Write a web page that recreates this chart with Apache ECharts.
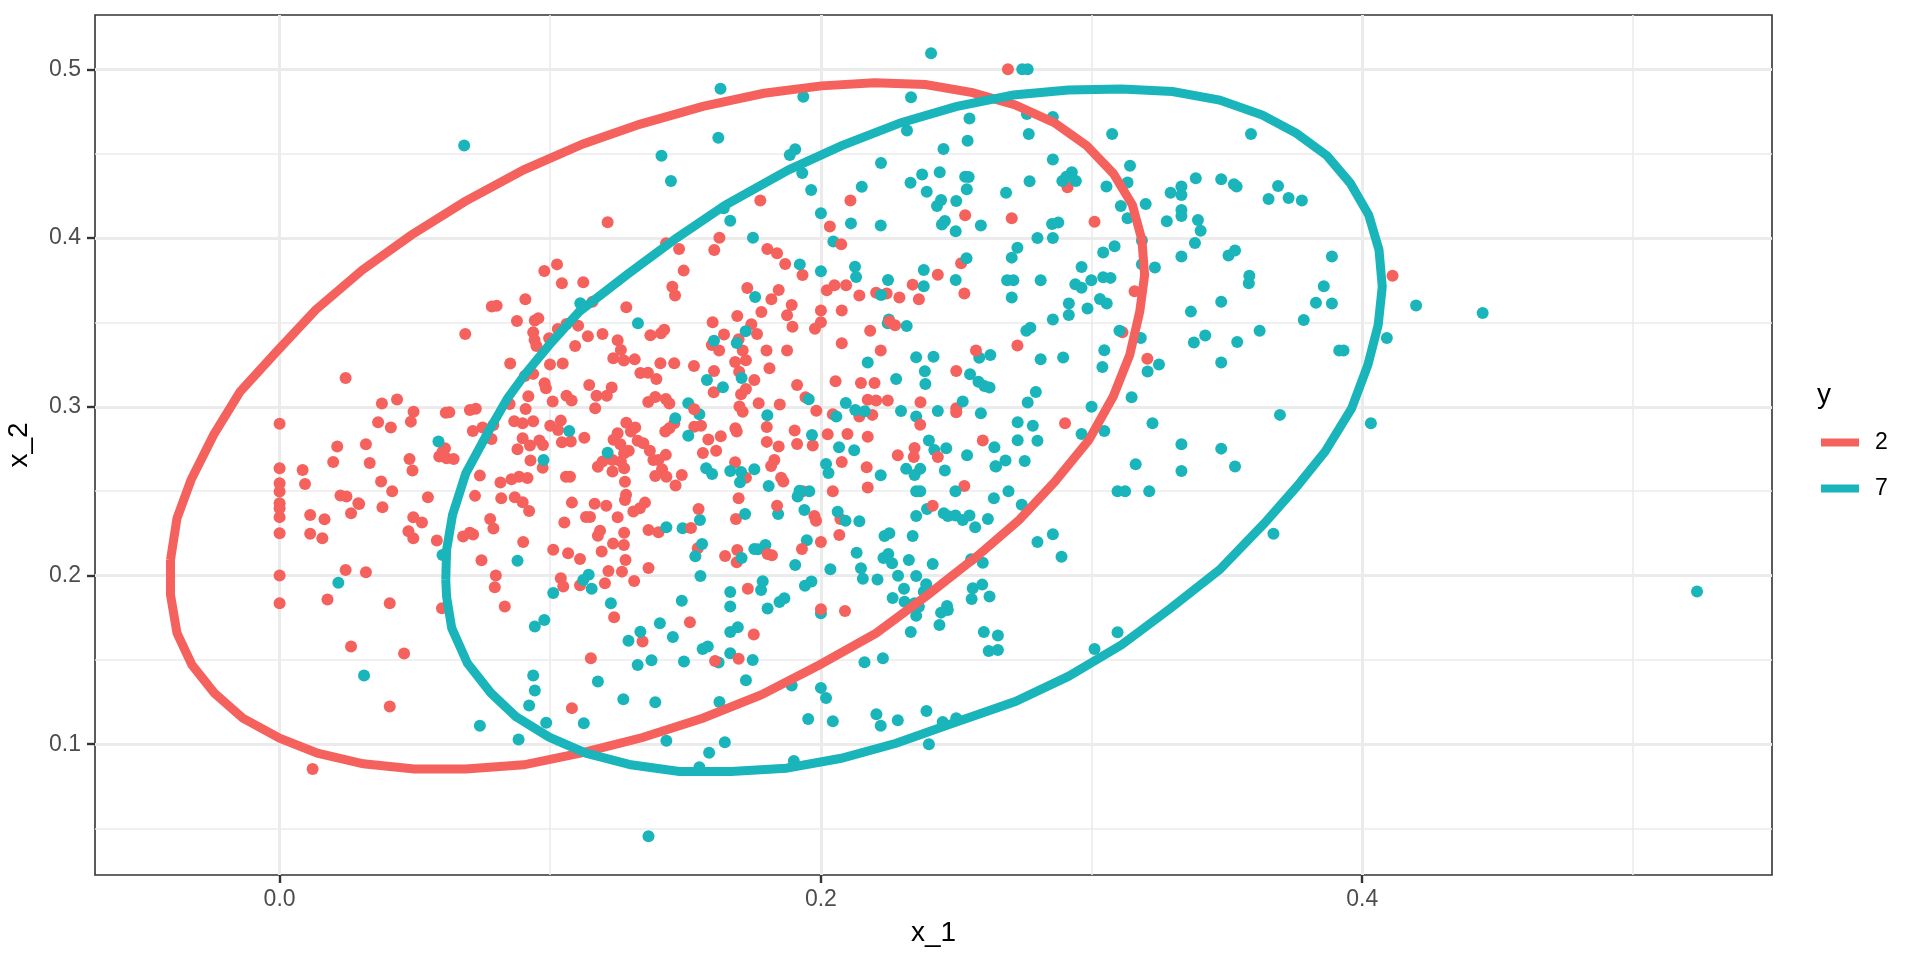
<!DOCTYPE html>
<html><head><meta charset="utf-8">
<script src="https://cdn.jsdelivr.net/npm/echarts@6/dist/echarts.min.js"></script>
<style>html,body{margin:0;padding:0;background:#fff}#c{width:1920px;height:960px}</style>
</head><body><div id="c"></div>
<script>
const xMajor=[0,0.2,0.4];
const xMinor=[0.1,0.3,0.5];
const yMajor=[0.1,0.2,0.3,0.4,0.5];
const yMinor=[0.05,0.15,0.25,0.35,0.45];
const groups=['2','7'];
const points2=[[.1025,.3844],[.0978,.3805],[.1043,.3732],[.1122,.3738],[.1451,.3712],[.1461,.3659],[.0908,.3637],[.0784,.3594],[.0802,.3599],[.1156,.3623],[.1281,.3590],[.0877,.3509],[.0943,.3511],[.0956,.3524],[.1028,.3461],[.1060,.3491],[.1103,.3481],[.0686,.3432],[.0937,.3441],[.0942,.3396],[.0949,.3360],[.0996,.3406],[.1092,.3360],[.1139,.3418],[.1193,.3432],[.1249,.3394],[.1261,.3337],[.1233,.3287],[.1272,.3274],[.1312,.3281],[.1370,.3424],[.1409,.3436],[.1421,.3457],[.0852,.3256],[.0999,.3250],[.1046,.3256],[.1407,.3258],[.1458,.3258],[.1333,.3200],[.1361,.3202],[.1392,.3165],[.0906,.3183],[.0937,.3195],[.0979,.3139],[.0984,.3110],[.1144,.3129],[.1227,.3114],[.1171,.3066],[.1209,.3066],[.0919,.3062],[.1060,.3066],[.1079,.3037],[.1009,.3031],[.1362,.3029],[.1388,.3058],[.1427,.3046],[.1440,.3019],[.1166,.2991],[.0378,.3019],[.0434,.3043],[.0495,.2971],[.0485,.2912],[.0364,.2908],[.0411,.2877],[.0614,.2965],[.0627,.2967],[.0703,.2981],[.0725,.2989],[.0850,.3017],[.0909,.2987],[.0867,.2914],[.0898,.2902],[.0937,.2914],[.0790,.2892],[.0750,.2877],[.0714,.2857],[.0783,.2809],[.1000,.2888],[.1039,.2918],[.1029,.2863],[.1126,.2817],[.1043,.2790],[.1076,.2794],[.0898,.2813],[.0960,.2800],[.0973,.2774],[.0925,.2770],[.0879,.2748],[.0927,.2681],[.0972,.2638],[.0319,.2778],[.0333,.2667],[.0480,.2691],[.0491,.2622],[.0611,.2754],[.0590,.2705],[.0617,.2695],[.0643,.2691],[.0602,.2734],[.0375,.2557],[.0416,.2499],[.0548,.2464],[.0380,.2405],[.0294,.2424],[.0740,.2592],[.0816,.2551],[.0857,.2570],[.0885,.2586],[.0916,.2578],[.0722,.2472],[.0819,.2458],[.0869,.2464],[.0898,.2434],[.0922,.2383],[.1058,.2586],[.1073,.2586],[.1080,.2432],[.1164,.2426],[.1207,.2414],[.1276,.2555],[.1280,.2478],[.1276,.2448],[.1350,.2432],[.1331,.2399],[.1307,.2379],[.1463,.2533],[.0494,.2345],[.0526,.2314],[.0476,.2262],[.0494,.2221],[.0581,.2207],[.0778,.2335],[.0790,.2278],[.0678,.2231],[.0703,.2254],[.0715,.2243],[.0900,.2199],[.1052,.2314],[.1132,.2347],[.1147,.2347],[.1249,.2345],[.1363,.2270],[.1400,.2256],[.1184,.2266],[.1176,.2235],[.1273,.2254],[.1232,.2189],[.1272,.2181],[.1190,.2142],[.1278,.2092],[.1011,.2152],[.1066,.2132],[.1110,.2098],[.0746,.2090],[.1363,.2045],[.1215,.2027],[.1265,.2023],[.0319,.2019],[.0799,.2000],[.1039,.1984],[.1281,.2906],[.1314,.2877],[.1298,.2853],[.1249,.2843],[.1234,.2804],[.1259,.2778],[.1323,.2798],[.1344,.2784],[.1290,.2740],[.1368,.2740],[.1381,.2685],[.1427,.2715],[.1400,.2685],[.1273,.2724],[.1230,.2685],[.1193,.2675],[.1176,.2645],[.1230,.2616],[.1273,.2636],[.1261,.2675],[.1413,.2630],[.1388,.2590],[.1429,.2586],[.1458,.2902],[.1440,.2873],[.1425,.2853],
[.0795,.1931],[.1048,.1935],[.1110,.1942],[.1202,.1954],[.1310,.1968],[.0600,.1806],[.0407,.1836],[.0832,.1816],[.1236,.1753],[.1341,.1609],[.0460,.1538],[.1150,.1510],[.0407,.1224],[.1080,.1214],
[0,.2899],[.0244,.3171],[.0213,.2764],[0,.2636],[.0085,.2626],[.0198,.2673],[0,.2547],[0,.2498],[.0094,.2543],[0,.2429],[0,.2399],[0,.2346],[0,.2251],[.0113,.2359],[.0166,.2334],[.0113,.2247],[.0158,.2221],[.0225,.2474],[.0247,.2468],[.0291,.2429],[.0264,.2369],[0,.2],[0,.1836],[.0244,.2032],[.0177,.1858],[.0264,.1579],[.0122,.0853],[.1212,.4093],
[.1428,.3969],[.1476,.3935],[.1493,.3807],[.2691,.5],
[.1776,.4222],[.2109,.4222],[.2533,.4135],[.2033,.4068],[.1625,.4002],[.1606,.3929],[.1802,.3935],[.1838,.3910],[.1868,.3846],[.1932,.3781],[.2518,.3850],[.2432,.3783],[.2339,.3724],[.1728,.3704],[.1844,.3692],[.1817,.3637],[.1892,.3603],[.1780,.3562],[.1691,.3538],[.1875,.3542],[.1895,.3475],[.1600,.3501],[.1743,.3489],[.1764,.3432],[.1642,.3428],[.1696,.3400],[.1597,.3366],[.1624,.3333],[.1711,.3333],[.1799,.3333],[.1875,.3333],[.1723,.3276],[.1683,.3266],[.1810,.3228],[.1531,.3242],[.1605,.3212],[.1698,.3208],[.1754,.3159],[.1723,.3106],[.1604,.3086],[.1705,.3074],[.1770,.3021],[.1848,.3013],[.1912,.3129],[.1943,.3056],[.1983,.2977],[.1699,.3001],[.1711,.2971],[.2022,.3690],[.2050,.3720],[.2093,.3720],[.2142,.3659],[.2204,.3676],[.2243,.3672],[.2290,.3647],[.2362,.3637],[.2530,.3672],[.2000,.3570],[.2077,.3570],[.2000,.3501],[.1978,.3463],[.2182,.3451],[.2077,.3376],[.2221,.3333],[.2500,.3212],[.2054,.3151],[.2148,.3141],[.2198,.3141],[.2173,.3041],[.2204,.3037],[.2247,.3037],[.2368,.3027],[.2500,.2991],[.2500,.2967],[.2044,.2956],[.2142,.2942],[.2190,.2952],[.1684,.2873],[.1689,.2853],[.1532,.2882],[.1557,.2888],[.1630,.2825],[.1584,.2806],[.1903,.2859],[.2025,.2837],[.2098,.2839],[.2173,.2823],[.1800,.2792],[.1844,.2764],[.1912,.2780],[.1970,.2770],[.1613,.2740],[.1564,.2726],[.2346,.2756],[.2343,.2703],[.2284,.2713],[.2598,.2800],[.2077,.2673],[.1683,.2671],[.1828,.2685],[.1816,.2649],[.2169,.2642],[.1486,.2596],[.1723,.2580],[.1853,.2580],[.1861,.2557],[.2173,.2521],[.2530,.2531],[.2044,.2499],[.1933,.2499],[.1696,.2458],
[.1686,.2335],[.2072,.2335],[.1545,.2161],[.1646,.2116],[.1691,.2151],[.1689,.2078],[.2000,.2199],[.2068,.2240],[.1516,.1723],[.1752,.1650],[.2089,.1790],
[.2705,.4117],[.3011,.4097],[.2911,.4301],[.2726,.3363],[.3114,.3442],[.3159,.3685],[.3206,.3284],[.2902,.2903],[.4112,.3777]];
const points7=[[.1111,.3613],[.1324,.3495],[.0587,.2794],[.1070,.2857],[.1212,.2728],[.0975,.2685],[.1462,.2932],[.1429,.2286],[.0879,.2087],[.0602,.2122],[.1142,.2004],[.1122,.1974],
[.1153,.1921],[.1011,.1897],[.1224,.1836],[.0978,.1737],[.0943,.1698],[.1405,.1717],[.1333,.1666],[.1289,.1613],[.1453,.1636],[.1374,.1498],[.1323,.1470],[.0312,.1407],[.0937,.1407],[.0943,.1318],[.1176,.1372],[.0922,.1229],[.1270,.1267],[.1388,.1249],[.0740,.1109],[.0985,.1127],[.1124,.1125],[.0883,.1028],[.1429,.1020],[.0217,.1957],[.0682,.4548],
[.1411,.4488],[.1446,.4338],[.1629,.4885],[.1935,.4838],[.1621,.4595],[.2333,.4834],[.2407,.5095],[.1885,.4492],[.1905,.4526],[.1931,.4386],[.2222,.4445],[.2318,.4637],[.2549,.4708],[.2761,.4735],[.2857,.4718],[.2542,.4577],[.2453,.4528],[.2768,.4617],[.2857,.4465],[.3076,.4617],[.3142,.4429],[.3589,.4617],[.2439,.4390],[.2374,.4376],[.2533,.4364],[.2546,.4362],[.2744,.5],[.2764,.5],
[.1964,.4285],[.2151,.4304],[.2331,.4328],[.2391,.4275],[.2444,.4225],[.2429,.4190],[.2500,.4220],[.2539,.4289],[.2000,.4147],[.2111,.4087],[.2221,.4075],[.1665,.4103],[.1641,.4176],[.1749,.4002],[.2458,.4101],[.2447,.4081],[.2498,.4040],[.2591,.4075],[.2046,.3979],[.2538,.3880],[.1922,.3844],[.2000,.3803],[.2126,.3830],[.2130,.3769],[.2380,.3811],[.2498,.3752],[.2248,.3752],[.2380,.3714],[.1757,.3651],[.2222,.3663],[.1722,.3447],[.1605,.3392],[.1689,.3378],[.2251,.3518],[.2247,.3495],[.2317,.3479],[.2173,.3262],[.2352,.3293],[.2416,.3297],[.2626,.3307],[.2585,.3291],[.2384,.3210],[.2278,.3165],[.2386,.3135],[.2551,.3193],[.2582,.3149],[.2604,.3123],[.2623,.3114],[.1579,.3159],[.1707,.3171],[.1638,.3116],[.1955,.3044],[.2092,.3023],[.2524,.3031],[.2296,.2975],[.2432,.2975],[.2591,.2962],[.2127,.2981],[.2162,.2973],[.2352,.2942],[.2057,.2942],[.1802,.2950],[.1510,.3021],[.1551,.2956],[.1510,.2829],[.1967,.2833],[.2399,.2800],[.2419,.2744],[.2463,.2754],[.2067,.2760],[.2123,.2742],[.2641,.2760],[.2540,.2713],[.2645,.2647],[.2019,.2661],[.2028,.2608],[.2221,.2594],[.2315,.2632],[.2367,.2632],[.2346,.2596],[.2458,.2622],[.1576,.2636],[.1598,.2602],[.1665,.2620],[.1705,.2614],[.1754,.2630],[.1701,.2553],[.1807,.2531],[.1921,.2503],[.1957,.2499],[.1914,.2468],[.2352,.2499],[.2367,.2499],[.2497,.2499],[.2639,.2458],
[.1553,.2329],[.1489,.2280],[.1720,.2365],[.1842,.2365],[.1939,.2388],[.2062,.2378],[.2091,.2325],[.2142,.2321],[.2352,.2353],[.2392,.2394],[.2454,.2369],[.2469,.2353],[.2497,.2355],[.2524,.2329],[.2549,.2355],[.2570,.2286],[.2617,.2335],[.2339,.2234],[.2235,.2234],[.2253,.2250],[.1561,.2187],[.1536,.2114],[.1707,.2104],[.1754,.2157],[.1767,.2155],[.1795,.2181],[.1948,.2209],[.2132,.2135],[.2231,.2104],[.2249,.2128],[.2263,.2072],[.2325,.2092],[.2413,.2068],[.2555,.2096],[.2598,.2076],[.1905,.2062],[.2035,.2037],[.2148,.2043],[.2155,.1981],[.2209,.1977],[.2285,.1999],[.2352,.1997],[.1555,.1997],[.1785,.1966],[.1779,.1914],[.1665,.1902],[.1965,.1964],[.1941,.1940],[.2389,.1948],[.2380,.1904],[.2307,.1922],[.2561,.1924],[.2596,.1946],[.2557,.1861],[.2623,.1875],[.2265,.1867],[.2309,.1845],[.2346,.1835],[.2362,.1815],[.1486,.1851],[.1665,.1817],[.1803,.1804],[.1847,.1843],[.1865,.1865],[.2000,.1776],[.2352,.1762],[.2444,.1780],[.2466,.1819],[.2469,.1796],[.2438,.1707],[.2332,.1665],[.1665,.1665],[.1693,.1693],[.2602,.1665],[.2654,.1644],[.2620,.1553],[.2654,.1559],[.1563,.1565],[.1582,.1579],[.1665,.1539],[.1748,.1499],[.1622,.1484],[.1494,.1490],[.2161,.1486],[.2229,.1509],[.1723,.1379],[.1892,.1348],[.2000,.1334],[.2019,.1274],[.1625,.1251],[.2205,.1178],[.2221,.1110],[.2284,.1142],[.2390,.1197],[.2450,.1132],[.2500,.1154],[.1953,.1150],[.2044,.1136],[.1645,.1012],[.1587,.0950],[.1551,.0864],[.1900,.0901],[.2399,.1000],[.1363,.0454],
[.2693,.2500],[.3096,.2500],[.3124,.2500],[.3213,.2500],[.2742,.2419],[.2800,.2199],[.2857,.2245],[.2889,.2111],[.3672,.2247],[.3011,.1565],[.3096,.1664],
[.2684,.4269],[.2771,.4336],[.2892,.4338],[.2907,.4364],[.2927,.4390],[.2942,.4338],[.3055,.4305],[.3133,.4329],[.3108,.4190],[.3200,.4202],[.3133,.4117],[.3292,.4269],[.3332,.4305],[.3332,.4255],[.3385,.4354],[.3479,.4348],[.3526,.4319],[.3536,.4305],[.3654,.4232],[.3689,.4309],[.3332,.4167],[.3332,.4131],[.3393,.4107],[.3403,.4044],[.3278,.4099],[.2854,.4084],[.2877,.4092],[.2857,.4001],[.2800,.4001],[.3186,.3985],[.3085,.3951],[.3043,.3914],[.2726,.3943],[.2705,.3884],[.3382,.3971],[.3332,.3890],[.3506,.3896],[.3530,.3926],[.3583,.3777],[.3581,.3732],[.2963,.3829],[.3186,.3845],[.3234,.3825],[.2812,.3750],[.2688,.3750],[.2711,.3750],[.2999,.3750],[.3043,.3768],[.3070,.3764],[.2940,.3726],[.2963,.3706],[.2705,.3647],[.3031,.3639],[.3056,.3612],[.2916,.3612],[.2985,.3582],[.2916,.3544],[.2857,.3517],[.3479,.3623],[.3367,.3564],[.2759,.3450],[.2774,.3469],[.3103,.3450],[.3182,.3408],[.3420,.3422],[.3378,.3381],[.3621,.3450],[.3538,.3384],[.3047,.3335],[.2812,.3282],[.2895,.3292],[.3040,.3236],[.3249,.3250],[.3207,.3209],[.3479,.3262],[.2794,.3088],[.2764,.3025],[.3148,.3057],[.3000,.3000],[.2727,.2908],[.2783,.2887],[.3225,.2903],[.2963,.2839],[.3047,.2857],[.2727,.2802],[.2800,.2798],[.3332,.2778],[.3479,.2752],[.2753,.2679],[.2682,.2681],[.2647,.2646],[.3163,.2660],[.3332,.2620],[.3530,.2646],[.3696,.2952],
[.3728,.4238],[.3777,.4222],[.3888,.3890],[.3858,.3714],[.3829,.3616],[.3888,.3612],[.3784,.3515],[.3915,.3333],[.3931,.3333],[.4091,.3408],[.4199,.3600],[.4445,.3556],[.4032,.2903],[.5237,.1905]];
const points2Top=[[.2075,.3963],[.2253,.3505],[.2274,.3483],[.1532,.2985],[.2367,.2894],[.2573,.3333],[.2432,.2703],[.1800,.2880],[.1548,.2394],[.1838,.2414],[.2413,.2414],[.1520,.2282],[.1976,.2353],[.1982,.2325],[.1803,.2128],[.1819,.2120],[.1730,.1922],[.2000,.1800],[.1609,.1494],[.1696,.1507],[.1930,.2157]];
const ellipse2=[[-.0403,.2093],[-.0403,.1885],[-.0379,.1658],[-.0324,.1471],[-.0241,.1303],[-.0136,.1155],[0,.1036],[.0140,.0947],[.0309,.0884],[.0498,.0853],[.0688,.0853],[.0902,.0878],[.1120,.0950],[.1341,.1040],[.1563,.1154],[.1779,.1292],[.1994,.1470],[.2204,.1658],[.2395,.1885],[.2580,.2118],[.2733,.2330],[.2864,.2555],[.2990,.2803],[.3080,.3061],[.3141,.3307],[.3178,.3564],[.3196,.3781],[.3186,.3989],[.3151,.4196],[.3080,.4384],[.2982,.4548],[.2862,.4684],[.2718,.4789],[.2560,.4862],[.2386,.4910],[.2198,.4920],[.2002,.4902],[.1790,.4858],[.1564,.4780],[.1330,.4674],[.1121,.4558],[.0902,.4404],[.0684,.4216],[.0487,.4018],[.0306,.3811],[.0133,.3574],[-.0011,.3327],[-.0146,.3090],[-.0244,.2833],[-.0327,.2567],[-.0379,.2340],[-.0403,.2093]];
const ellipse7=[[.0614,.1974],[.0617,.1875],[.0636,.1688],[.0694,.1480],[.0781,.1303],[.0873,.1164],[.0996,.1042],[.1132,.0947],[.1298,.0878],[.1477,.0838],[.1668,.0838],[.1871,.0858],[.2075,.0917],[.2278,.1006],[.2487,.1124],[.2718,.1253],[.2914,.1402],[.3111,.1589],[.3292,.1806],[.3473,.2034],[.3639,.2310],[.3760,.2530],[.3863,.2735],[.3961,.2991],[.4021,.3248],[.4059,.3485],[.4074,.3712],[.4062,.3930],[.4024,.4137],[.3956,.4325],[.3870,.4488],[.3757,.4621],[.3631,.4729],[.3473,.4818],[.3299,.4868],[.3111,.4883],[.2914,.4878],[.2711,.4848],[.2499,.4779],[.2296,.4684],[.2077,.4548],[.1881,.4404],[.1647,.4196],[.1466,.3999],[.1285,.3785],[.1107,.3564],[.0996,.3366],[.0910,.3199],[.0842,.3050],[.0768,.2843],[.0688,.2606],[.0639,.2359],[.0617,.2152],[.0614,.1974]];

const RED='#F5615C', TEAL='#19B5BA', FONT='"Liberation Sans",Arial,sans-serif';
const xRange={min:-0.0682,max:0.5514}, yRange={min:0.0225,max:0.5322};
const fmt=v=>Number(v).toFixed(1);
function scatter(name,data,color){return {type:'scatter',name,data,symbolSize:12,itemStyle:{color,opacity:1},silent:true,z:3};}
function ellipse(name,data,color,z){return {type:'line',name,data,showSymbol:false,symbol:'none',smooth:false,lineStyle:{color,width:9,join:'miter',cap:'butt'},itemStyle:{color},silent:true,z};}
function mainAxis(r,major,pos,nameText,gap,rot,margin){return {type:'value',position:pos,...r,name:nameText,nameLocation:'middle',nameGap:gap,nameRotate:rot,nameMoveOverlap:false,
  nameTextStyle:{fontFamily:FONT,fontSize:28,color:'#000'},
  axisLine:{show:false,onZero:false},axisTick:{show:true,length:8,customValues:major,lineStyle:{color:'#333',width:2.4}},
  axisLabel:{show:true,customValues:major,formatter:fmt,margin,fontFamily:FONT,fontSize:23,color:'#4D4D4D'},
  splitLine:{show:true,lineStyle:{color:'#EBEBEB',width:3}}};}
function minorAxis(r,minor,pos){return {type:'value',position:pos,...r,axisLine:{show:false,onZero:false},
  axisTick:{show:false,customValues:minor},axisLabel:{show:false,customValues:minor},
  splitLine:{show:true,lineStyle:{color:'#EBEBEB',width:1.6}}};}

const chart=echarts.init(document.getElementById('c'),null,{renderer:'canvas'});
chart.setOption({
  animation:false,backgroundColor:'#fff',
  grid:{left:95,top:15,width:1677,height:860,show:true,borderColor:'#333',borderWidth:1.6,backgroundColor:'#fff',containLabel:false,outerBoundsMode:'none'},
  title:{text:'y',left:1817,top:381,padding:0,textStyle:{fontFamily:FONT,fontSize:28,fontWeight:'normal',color:'#000'}},
  legend:{show:true,left:1821,top:431,orient:'vertical',data:groups,icon:'rect',itemWidth:38,itemHeight:8,itemGap:23,selectedMode:false,padding:0,
    textStyle:{fontFamily:FONT,fontSize:23,color:'#000',padding:[0,0,0,11]}},
  xAxis:[mainAxis(xRange,xMajor,'bottom','x_1',44,0,13),minorAxis(xRange,xMinor,'top')],
  yAxis:[mainAxis(yRange,yMajor,'left','x_2',62,90,14),minorAxis(yRange,yMinor,'right')],
  series:[
    scatter('2',points2,RED),
    scatter('7',points7,TEAL),
    scatter('2',points2Top,RED),
    ellipse('2',ellipse2,RED,5),
    ellipse('7',ellipse7,TEAL,6)
  ]
});
</script></body></html>
